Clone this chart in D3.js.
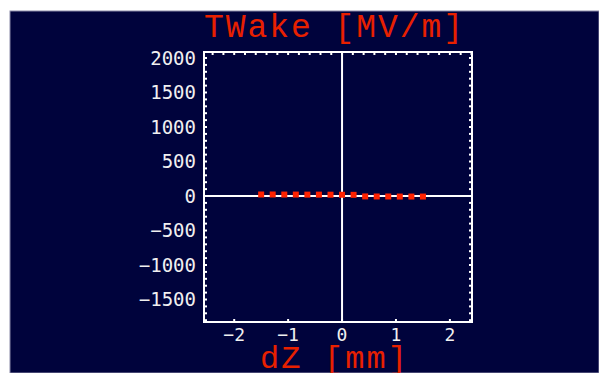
<!DOCTYPE html>
<html lang="en">
<head>
<meta charset="UTF-8" />
<title>TWake</title>
<style>
  body { margin: 0; background: #fff; }
  svg { display: block; }
</style>
</head>
<body>
<svg id="svg" width="599" height="373"></svg>
<script src="https://d3js.org/d3.v7.min.js"></script>
<script>
  // wake samples (dZ in mm, TWake in MV/m)
  const dz = [-1.5, -1.286, -1.071, -0.857, -0.643, -0.429, -0.214, 0, 0.214, 0.429, 0.643, 0.857, 1.071, 1.286, 1.5];
  const wake = [22, 22, 21, 21, 20, 20, 19, 18, 17, -6, -7, -7, -8, -8, -8];
  const xTicks = [-2, -1, 0, 1, 2];
  const yTicks = [-1500, -1000, -500, 0, 500, 1000, 1500, 2000];

  const svg = d3.select('#svg');
  const pLeft = 204, pRight = 472, pTop = 52, pBottom = 322;

  svg.append('rect')
    .attr('x', 10).attr('y', 11).attr('width', 589).attr('height', 362)
    .attr('fill', '#00033c').attr('stroke', '#8a8aa8').attr('stroke-width', 1);

  const x = d3.scaleLinear().domain([-2.56, 2.41]).range([pLeft, pRight]);
  const y = d3.scaleLinear().domain([-1826, 2087]).range([pBottom, pTop]);

  // minor ticks, all inward
  const g = svg.append('g').attr('stroke', '#fff').attr('stroke-width', 2);
  d3.range(-2.4, 2.41, 0.2).forEach(v => {
    g.append('line').attr('x1', x(v)).attr('x2', x(v)).attr('y1', pTop).attr('y2', pTop + 3);
  });
  xTicks.forEach(v => {
    g.append('line').attr('x1', x(v)).attr('x2', x(v)).attr('y1', pBottom).attr('y2', pBottom - 3);
  });
  d3.range(-1800, 2001, 100).forEach(v => {
    g.append('line').attr('x1', pLeft).attr('x2', pLeft + 3).attr('y1', y(v)).attr('y2', y(v));
    g.append('line').attr('x1', pRight).attr('x2', pRight - 3).attr('y1', y(v)).attr('y2', y(v));
  });

  // zero lines
  g.append('line').attr('x1', x(0)).attr('x2', x(0)).attr('y1', pTop).attr('y2', pBottom);
  g.append('line').attr('x1', pLeft).attr('x2', pRight).attr('y1', y(0)).attr('y2', y(0));

  // frame
  svg.append('rect')
    .attr('x', pLeft).attr('y', pTop).attr('width', pRight - pLeft).attr('height', pBottom - pTop)
    .attr('fill', 'none').attr('stroke', '#fff').attr('stroke-width', 2);

  // tick labels
  svg.append('g').selectAll('text').data(yTicks).enter().append('text')
    .attr('x', 196).attr('y', d => y(d)).attr('dy', '0.36em')
    .attr('text-anchor', 'end')
    .attr('font-family', 'DejaVu Sans Mono').attr('font-size', 19)
    .attr('fill', '#f0f0f0')
    .text(d => d < 0 ? '\u2212' + Math.abs(d) : d);

  svg.append('g').selectAll('text').data(xTicks).enter().append('text')
    .attr('x', d => x(d)).attr('y', 341)
    .attr('text-anchor', 'middle')
    .attr('font-family', 'DejaVu Sans Mono').attr('font-size', 18)
    .attr('fill', '#f0f0f0')
    .text(d => d < 0 ? '\u2212' + Math.abs(d) : d);

  // points
  svg.append('g').selectAll('rect').data(dz).enter().append('rect')
    .attr('x', (d) => x(d) - 3)
    .attr('y', (d, i) => y(wake[i]) - 3)
    .attr('width', 6).attr('height', 6)
    .attr('fill', '#ff2200');

  // titles
  svg.append('text').attr('x', 204).attr('y', 37)
    .attr('font-family', 'Liberation Mono').attr('font-size', 33)
    .attr('textLength', 259).attr('lengthAdjust', 'spacing')
    .attr('fill', '#e82000').text('TWake [MV/m]');
  svg.append('text').attr('x', 260).attr('y', 368)
    .attr('font-family', 'Liberation Mono').attr('font-size', 32)
    .attr('textLength', 147).attr('lengthAdjust', 'spacing')
    .attr('fill', '#e82000').text('dZ [mm]');
</script>
</body>
</html>
